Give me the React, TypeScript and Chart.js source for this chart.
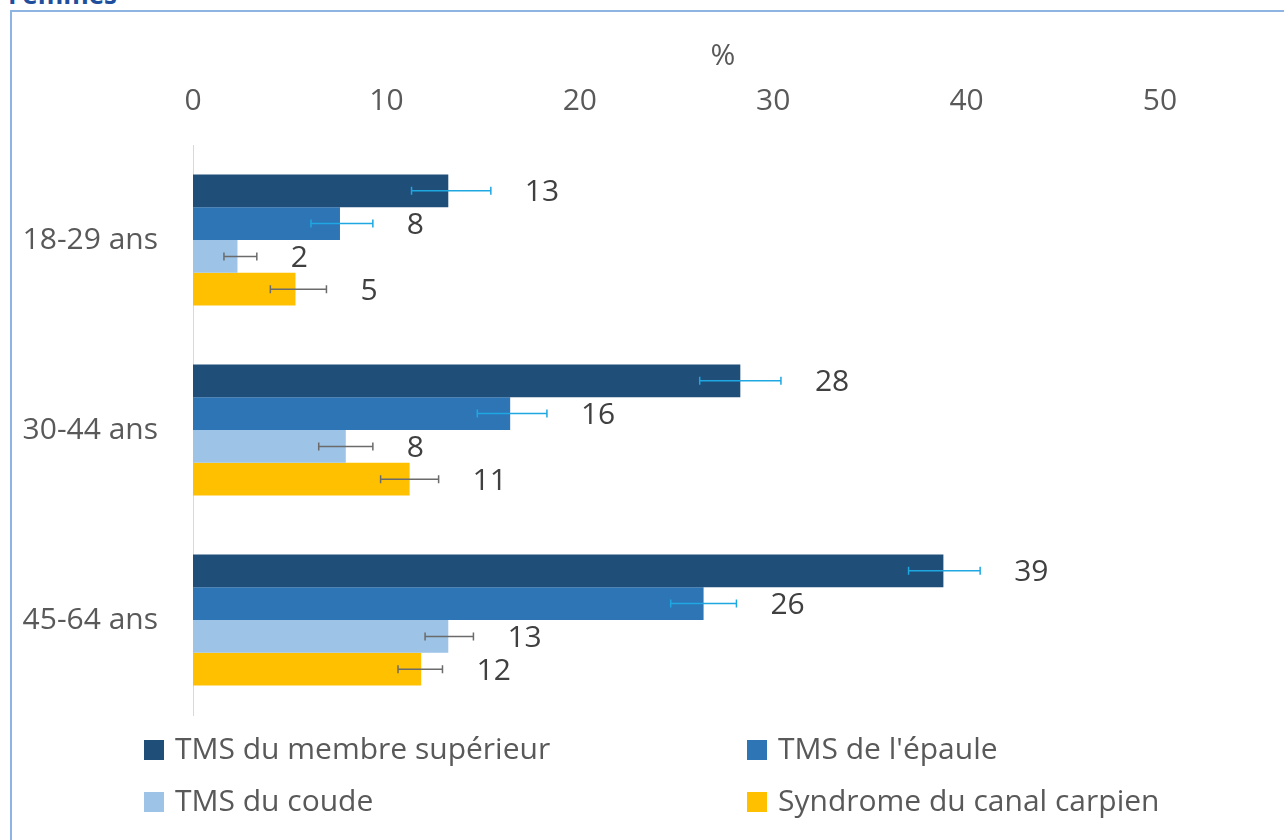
import React, { useEffect, useRef } from "react";
import { Chart, registerables } from "chart.js";

Chart.register(...registerables);

const categories = ["18-29 ans", "30-44 ans", "45-64 ans"];
const seriesNames = [
  "TMS du membre supérieur",
  "TMS de l'épaule",
  "TMS du coude",
  "Syndrome du canal carpien",
];
const membreSup = [13.2, 28.3, 38.8];
const membreSupLow = [11.3, 26.2, 37.0];
const membreSupHigh = [15.4, 30.4, 40.7];
const epaule = [7.6, 16.4, 26.4];
const epauleLow = [6.1, 14.7, 24.7];
const epauleHigh = [9.3, 18.3, 28.1];
const coude = [2.3, 7.9, 13.2];
const coudeLow = [1.6, 6.5, 12.0];
const coudeHigh = [3.3, 9.3, 14.5];
const canal = [5.3, 11.2, 11.8];
const canalLow = [4.0, 9.7, 10.6];
const canalHigh = [6.9, 12.7, 12.9];
const xTicks = [0, 10, 20, 30, 40, 50];
const axisTitle = "%";

const colors = ["#1F4E79", "#2E75B6", "#9DC3E6", "#FFC000"];
const errColors = ["#1EA7E1", "#1EA7E1", "#6b6b6b", "#6b6b6b"];
const FONT = "'Open Sans', sans-serif";
const TEXT = "#595959";

const lows = [membreSupLow, epauleLow, coudeLow, canalLow];
const highs = [membreSupHigh, epauleHigh, coudeHigh, canalHigh];

const errorAndLabelPlugin = {
  id: "errorAndLabel",
  afterDatasetsDraw(chart: any) {
    const ctx = chart.ctx;
    const xs = chart.scales.x;
    chart.data.datasets.forEach((ds: any, di: number) => {
      const meta = chart.getDatasetMeta(di);
      meta.data.forEach((bar: any, i: number) => {
        const y = bar.y;
        const xl = xs.getPixelForValue(lows[di][i]);
        const xh = xs.getPixelForValue(highs[di][i]);
        ctx.save();
        ctx.strokeStyle = errColors[di];
        ctx.lineWidth = 1.5;
        ctx.beginPath();
        ctx.moveTo(xl, y);
        ctx.lineTo(xh, y);
        ctx.moveTo(xl, y - 4);
        ctx.lineTo(xl, y + 4);
        ctx.moveTo(xh, y - 4);
        ctx.lineTo(xh, y + 4);
        ctx.stroke();
        ctx.fillStyle = "#404040";
        ctx.font = `30px ${FONT}`;
        ctx.textAlign = "left";
        ctx.textBaseline = "middle";
        ctx.fillText(String(Math.round(ds.data[i])), xh + 34, y + 2);
        ctx.restore();
      });
    });
  },
};

const legendPlugin = {
  id: "customLegend",
  afterDraw(chart: any) {
    const ctx = chart.ctx;
    const colX = [144, 747];
    const rowY = [750, 802];
    ctx.save();
    ctx.font = `30px ${FONT}`;
    ctx.textBaseline = "middle";
    ctx.textAlign = "left";
    seriesNames.forEach((name, i) => {
      const x = colX[i % 2];
      const y = rowY[Math.floor(i / 2)];
      ctx.fillStyle = colors[i];
      ctx.fillRect(x, y - 10, 20, 20);
      ctx.fillStyle = TEXT;
      ctx.fillText(name, x + 31, y);
    });
    // axis title
    ctx.textAlign = "center";
    ctx.fillText(axisTitle, 723, 56);
    ctx.restore();
  },
};

export default function App() {
  const ref = useRef<HTMLCanvasElement | null>(null);
  useEffect(() => {
    if (!ref.current) return;
    const values = [membreSup, epaule, coude, canal];
    const chart = new Chart(ref.current, {
      type: "bar",
      data: {
        labels: categories,
        datasets: seriesNames.map((n, i) => ({
          label: n,
          data: values[i],
          backgroundColor: colors[i],
          borderWidth: 0,
          categoryPercentage: 0.69,
          barPercentage: 1,
        })),
      },
      options: {
        indexAxis: "y",
        animation: false,
        responsive: false,
        devicePixelRatio: 1,
        layout: { padding: { left: 12, top: 20, right: 124, bottom: 125 } },
        plugins: {
          legend: { display: false },
          tooltip: { enabled: false },
          title: { display: false },
        },
        scales: {
          x: {
            type: "linear",
            position: "top",
            min: 0,
            max: 50,
            afterBuildTicks: (s: any) => {
              s.ticks = xTicks.map((v) => ({ value: v }));
            },
            afterFit: (s: any) => {
              s.height = 125;
            },
            grid: { display: false, drawTicks: false },
            border: { display: false },
            ticks: {
              color: TEXT,
              font: { family: FONT, size: 30 },
              padding: 26,
              maxRotation: 0,
              autoSkip: false,
            },
            title: { display: false },
          },
          y: {
            type: "category",
            afterFit: (s: any) => {
              s.width = 181;
            },
            grid: { display: false, drawTicks: false },
            border: { display: true, color: "#d9d9d9", width: 1 },
            ticks: {
              color: TEXT,
              font: { family: FONT, size: 30 },
              padding: 35,
            },
          },
        },
      },
      plugins: [errorAndLabelPlugin, legendPlugin],
    } as any);
    return () => chart.destroy();
  }, []);

  return (
    <div
      style={{
        position: "absolute",
        left: 0,
        top: 0,
        width: 1284,
        height: 840,
        overflow: "hidden",
        background: "#fff",
      }}
    >
      <div
        style={{
          position: "absolute",
          left: 8,
          top: -19,
          fontFamily: FONT,
          fontWeight: 700,
          fontSize: 26,
          lineHeight: "26px",
          color: "#1F4E9C",
          whiteSpace: "nowrap",
        }}
      >
        Femmes
      </div>
      <div
        style={{
          position: "absolute",
          left: 10,
          top: 10,
          width: 1300,
          height: 860,
          borderLeft: "2px solid #8DB4E2",
          borderTop: "2px solid #8DB4E2",
        }}
      />
      <canvas
        ref={ref}
        width={1284}
        height={840}
        style={{ position: "absolute", left: 0, top: 0, width: 1284, height: 840 }}
      />
    </div>
  );
}
